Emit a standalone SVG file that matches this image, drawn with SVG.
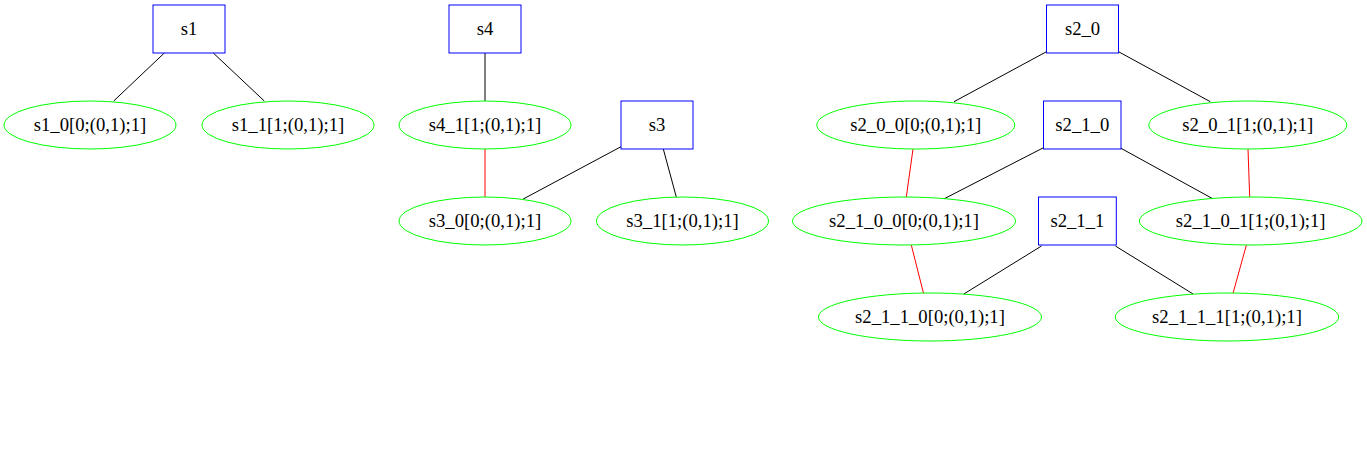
<svg xmlns="http://www.w3.org/2000/svg" width="1367" height="453" viewBox="0 0 1367 453">
<style>
.box{fill:none;stroke:#0000ff;stroke-width:1}
.ell{fill:none;stroke:#00ff00;stroke-width:1}
.e{stroke:#000000;stroke-width:1;fill:none}
.r{stroke:#ff0000;stroke-width:1;fill:none}
text{font-family:"Liberation Serif","Times New Roman",serif;font-size:18.67px;text-anchor:middle;fill:#000}
</style>
<rect width="1367" height="453" fill="#ffffff"/>
<g id="connectors">
<line class="e" x1="164.3" y1="53" x2="113.7" y2="101"/>
<line class="e" x1="213.3" y1="53" x2="264.3" y2="101"/>
<line class="e" x1="485" y1="53" x2="485" y2="101"/>
<line class="r" x1="485" y1="149" x2="485" y2="197"/>
<line class="e" x1="621" y1="146.7" x2="522.7" y2="199.3"/>
<line class="e" x1="663.3" y1="149" x2="676.3" y2="197"/>
<line class="e" x1="1046.5" y1="51.7" x2="954" y2="101.7"/>
<line class="e" x1="1118.5" y1="51.7" x2="1210.3" y2="101.7"/>
<line class="r" x1="913" y1="149" x2="906.3" y2="197"/>
<line class="r" x1="1248" y1="149" x2="1249.7" y2="197"/>
<line class="e" x1="1043.5" y1="147.7" x2="944.3" y2="198.7"/>
<line class="e" x1="1121" y1="148.3" x2="1212.7" y2="198.7"/>
<line class="e" x1="1041.5" y1="246" x2="963.8" y2="294"/>
<line class="e" x1="1115.4" y1="246" x2="1193.1" y2="294"/>
<line class="r" x1="911.3" y1="245" x2="923.5" y2="293.3"/>
<line class="r" x1="1246.4" y1="245" x2="1233" y2="293.3"/>
</g>
<g id="s1"><rect class="box" x="153" y="5" width="72" height="48"/><text x="189" y="34.5">s1</text></g>
<g id="s1_0"><ellipse class="ell" cx="90" cy="125" rx="86" ry="24"/><text x="90" y="130.5">s1_0[0;(0,1);1]</text></g>
<g id="s1_1"><ellipse class="ell" cx="288" cy="125" rx="86" ry="24"/><text x="288" y="130.5">s1_1[1;(0,1);1]</text></g>
<g id="s4"><rect class="box" x="449" y="5" width="72" height="48"/><text x="485" y="34.5">s4</text></g>
<g id="s4_1"><ellipse class="ell" cx="485" cy="125" rx="86" ry="24"/><text x="485" y="130.5">s4_1[1;(0,1);1]</text></g>
<g id="s3"><rect class="box" x="621" y="101" width="72" height="48"/><text x="657" y="130.5">s3</text></g>
<g id="s3_0"><ellipse class="ell" cx="485" cy="221" rx="86" ry="24"/><text x="485" y="226.5">s3_0[0;(0,1);1]</text></g>
<g id="s3_1"><ellipse class="ell" cx="682.5" cy="221" rx="86" ry="24"/><text x="682.5" y="226.5">s3_1[1;(0,1);1]</text></g>
<g id="s2_0"><rect class="box" x="1046.5" y="5" width="72" height="48"/><text x="1082.5" y="34.5">s2_0</text></g>
<g id="s2_0_0"><ellipse class="ell" cx="915.8" cy="125" rx="99" ry="24"/><text x="915.8" y="130.5">s2_0_0[0;(0,1);1]</text></g>
<g id="s2_0_1"><ellipse class="ell" cx="1247.8" cy="125" rx="99" ry="24"/><text x="1247.8" y="130.5">s2_0_1[1;(0,1);1]</text></g>
<g id="s2_1_0"><rect class="box" x="1043.5" y="101" width="77.5" height="48"/><text x="1082.3" y="130.5">s2_1_0</text></g>
<g id="s2_1_0_0"><ellipse class="ell" cx="904" cy="221" rx="111.5" ry="24"/><text x="904" y="226.5">s2_1_0_0[0;(0,1);1]</text></g>
<g id="s2_1_0_1"><ellipse class="ell" cx="1250.7" cy="221" rx="111.3" ry="24"/><text x="1250.7" y="226.5">s2_1_0_1[1;(0,1);1]</text></g>
<g id="s2_1_1"><rect class="box" x="1038.5" y="197" width="77.8" height="48"/><text x="1077.4" y="226.5">s2_1_1</text></g>
<g id="s2_1_1_0"><ellipse class="ell" cx="930" cy="317" rx="111.5" ry="24"/><text x="930" y="322.5">s2_1_1_0[0;(0,1);1]</text></g>
<g id="s2_1_1_1"><ellipse class="ell" cx="1227" cy="317" rx="111.7" ry="24"/><text x="1227" y="322.5">s2_1_1_1[1;(0,1);1]</text></g>
</svg>
